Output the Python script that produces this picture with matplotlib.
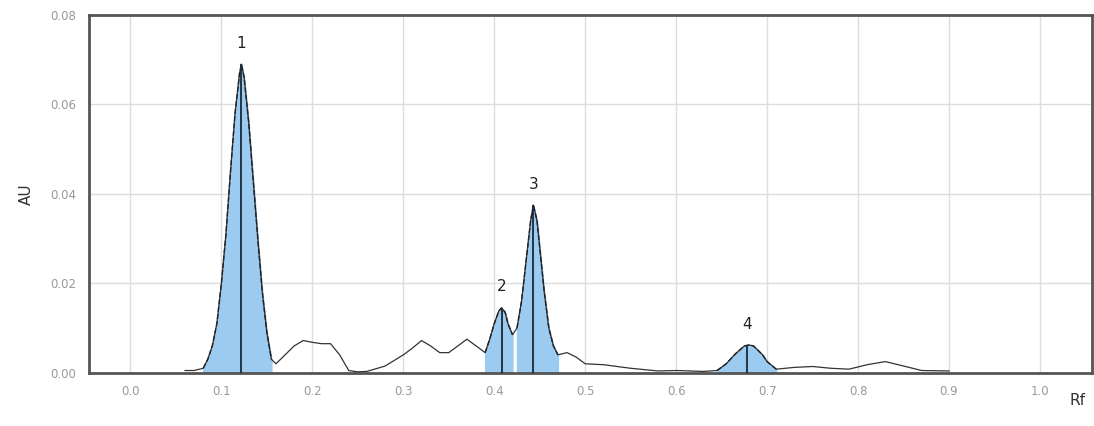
import numpy as np
import matplotlib.pyplot as plt

# densitogram trace
rf = [0.06, 0.07, 0.08, 0.085, 0.09, 0.095, 0.10, 0.105, 0.11, 0.115, 0.12, 0.122, 0.125,
      0.13, 0.135, 0.14, 0.145, 0.15, 0.155, 0.16, 0.17,
      0.18, 0.19, 0.20, 0.21, 0.22, 0.23, 0.24, 0.25, 0.26, 0.28, 0.30, 0.31, 0.32, 0.33,
      0.34, 0.35, 0.36, 0.37, 0.38, 0.39, 0.395, 0.40, 0.405, 0.408, 0.412, 0.415, 0.42,
      0.425, 0.43, 0.435, 0.44, 0.443, 0.447, 0.45, 0.455, 0.46, 0.465, 0.47, 0.48, 0.49,
      0.50, 0.52, 0.55, 0.58, 0.60, 0.63, 0.645, 0.655, 0.665, 0.675, 0.68, 0.685, 0.695,
      0.70, 0.71, 0.73, 0.75, 0.77, 0.79, 0.81, 0.83, 0.85, 0.87, 0.90]
au = [0.0005, 0.0005, 0.001, 0.003, 0.006, 0.011, 0.020, 0.031, 0.045, 0.058, 0.067, 0.069,
      0.066, 0.056, 0.043, 0.030, 0.018, 0.009, 0.003, 0.002, 0.004,
      0.006, 0.0072, 0.0068, 0.0065, 0.0065, 0.004, 0.0005, 0.0002, 0.0003, 0.0015, 0.004,
      0.0055, 0.0072, 0.006, 0.0045, 0.0045, 0.006, 0.0075, 0.006, 0.0045, 0.0075, 0.011,
      0.0138, 0.0145, 0.0135, 0.011, 0.0085, 0.010, 0.016, 0.025, 0.034, 0.0375, 0.034,
      0.028, 0.018, 0.010, 0.006, 0.004, 0.0045, 0.0035, 0.002, 0.0018, 0.001, 0.0004,
      0.0005, 0.0003, 0.0005, 0.002, 0.0042, 0.006, 0.0062, 0.006, 0.004, 0.0025, 0.0008,
      0.0012, 0.0014, 0.001, 0.0008, 0.0018, 0.0025, 0.0015, 0.0005, 0.0004]

peak_labels = ['1', '2', '3', '4']
peak_rf = [0.122, 0.408, 0.443, 0.678]
peak_au = [0.069, 0.0145, 0.0375, 0.0062]
peak_ranges = [(0.08, 0.155), (0.39, 0.42), (0.425, 0.47), (0.645, 0.71)]

x = np.array(rf)
y = np.array(au)

fig, ax = plt.subplots(figsize=(10.94, 4.26), dpi=100)
fig.subplots_adjust(left=0.081, right=0.998, top=0.965, bottom=0.125)

ax.plot(x, y, color='#333333', lw=0.9, zorder=3)
for lo, hi in peak_ranges:
    m = (x >= lo) & (x <= hi)
    ax.fill_between(x[m], y[m], 0, color='#9ccbf2', zorder=2)
    ax.plot(x[m], y[m], color='#222222', lw=1.0, ls='--', zorder=4)

for lab, px, py in zip(peak_labels, peak_rf, peak_au):
    ax.vlines(px, 0, py, color='#1a2a3a', lw=1.3, zorder=5)
    ax.text(px, py + 0.003, lab, ha='center', va='bottom', fontsize=11, color='#222222')

ax.set_xlim(-0.046, 1.057)
ax.set_ylim(0, 0.08)
ax.set_xticks(np.arange(0, 1.01, 0.1))
ax.set_yticks([0, 0.02, 0.04, 0.06, 0.08])
ax.set_xticklabels([f'{v:.1f}' for v in np.arange(0, 1.01, 0.1)])
ax.set_yticklabels(['0.00', '0.02', '0.04', '0.06', '0.08'])
ax.tick_params(colors='#999999', labelsize=8.5, length=0, pad=9)
ax.grid(True, color='#dddddd', lw=1)
ax.set_axisbelow(True)
for s in ax.spines.values():
    s.set_color('#555555')
    s.set_linewidth(2)
ax.set_ylabel('AU', fontsize=11, color='#333333', labelpad=12)
fig.text(0.985, 0.05, 'Rf', ha='center', fontsize=11, color='#333333')

plt.savefig('out.png')
